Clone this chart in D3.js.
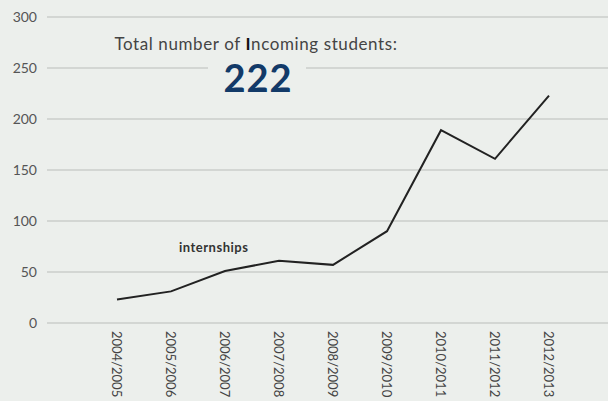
<!DOCTYPE html>
<html><head><meta charset="utf-8">
<script src="https://cdn.jsdelivr.net/npm/d3@7"></script>
<style>
html,body{margin:0;padding:0;background:#ecefec;}
svg{display:block;font-family:Lato,"Open Sans",sans-serif;}
</style></head>
<body>
<svg id="c" width="608" height="401"></svg>
<script>
const years = ["2004/2005","2005/2006","2006/2007","2007/2008","2008/2009","2009/2010","2010/2011","2011/2012","2012/2013"];
const internships = [23,31,51,61,57,90,189,161,223];
const yTicks = [0,50,100,150,200,250,300];
const seriesLabel = "internships";
const totalValue = 222;

const svg = d3.select("#c");
const W = 608, H = 401;
svg.append("rect").attr("width",W).attr("height",H).attr("fill","#ecefec");

const y = d3.scaleLinear().domain([0,300]).range([323,17]);
const x = d3.scalePoint().domain(years).range([117,549]);

// grid
const gy = svg.append("g");
gy.selectAll("line").data(yTicks).join("line")
  .attr("x1",47).attr("x2",W).attr("y1",d=>y(d)).attr("y2",d=>y(d))
  .attr("stroke","#d3d6d3").attr("stroke-width",2);
gy.selectAll("text").data(yTicks).join("text")
  .attr("x",37).attr("y",d=>y(d)).attr("dy","0.36em")
  .attr("text-anchor","end").attr("font-size",14).attr("fill","#555")
  .text(d=>d);

// x labels
svg.append("g").selectAll("text").data(years).join("text")
  .attr("transform",d=>`translate(${x(d)},331) rotate(90)`)
  .attr("dy","0.36em").attr("font-size",13).attr("fill","#444")
  .text(d=>d);

// line
const line = d3.line().x((d,i)=>x(years[i])).y(d=>y(d));
svg.append("path").datum(internships).attr("d",line)
  .attr("fill","none").attr("stroke","#222").attr("stroke-width",2).attr("stroke-linejoin","miter");

svg.append("text").attr("x",x(years[1])+8).attr("y",y(internships[1])-39)
  .attr("font-size",13).attr("font-weight","bold").attr("fill","#333").attr("letter-spacing",0.5)
  .text(seriesLabel);

// total box
svg.append("rect").attr("x",208).attr("y",60).attr("width",98).attr("height",40).attr("fill","#ecefec");
const t = svg.append("text").attr("x",256).attr("y",50).attr("text-anchor","middle")
  .attr("font-size",17).attr("fill","#444").attr("letter-spacing",0.6);
t.append("tspan").text("Total number of ");
t.append("tspan").attr("fill","#111").attr("font-weight","bold").text("I");
t.append("tspan").text("ncoming students:");
svg.append("text").attr("x",258).attr("y",92).attr("text-anchor","middle")
  .attr("font-size",38).attr("font-weight","bold").attr("fill","#123a68").attr("letter-spacing",1)
  .text(totalValue);
</script>
</body></html>
